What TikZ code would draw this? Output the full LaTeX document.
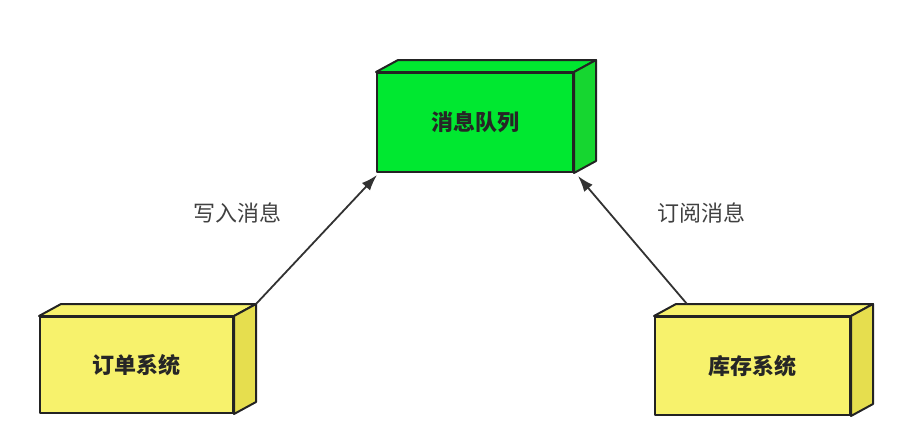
\documentclass[tikz,border=0pt]{standalone}
\usepackage{fontspec}
\newfontfamily\cjk{Noto Sans CJK SC}
\usetikzlibrary{positioning, arrows.meta}

\definecolor{queuefront}{RGB}{0,232,48}
\definecolor{queueside}{RGB}{22,214,48}
\definecolor{sysfront}{RGB}{247,242,108}
\definecolor{sysside}{RGB}{230,222,78}
\definecolor{edgegray}{RGB}{35,35,35}
\definecolor{arrowgray}{RGB}{50,50,50}

\begin{document}
\begin{tikzpicture}[
    x=1pt, y=-1pt,
    % Styles
    front/.style={draw=edgegray, line width=2pt, line join=round, minimum width=195pt, minimum height=98pt, inner sep=0pt, font=\cjk\bfseries\fontsize{22}{26}\selectfont, text=black!85},
    face/.style={draw=edgegray, line width=2pt, line join=round},
    flow/.style={-{Latex[length=16pt, width=11pt]}, line width=1.8pt, arrowgray},
    label/.style={font=\cjk\fontsize{22}{26}\selectfont, text=black!75},
]
\useasboundingbox (0,0) rectangle (904,424);

% Message queue (top)
\node[front, fill=queuefront, minimum width=196pt, minimum height=99pt] (queue) at (475,122.5) {消息队列};
\draw[face, fill=queuefront] (queue.north west) -- ([shift={(22,-12)}]queue.north west) -- ([shift={(22,-12)}]queue.north east) -- (queue.north east) -- cycle;
\draw[face, fill=queueside] (queue.north east) -- ([shift={(22,-12)}]queue.north east) -- ([shift={(22,-12)}]queue.south east) -- (queue.south east) -- cycle;

% Order system (left)
\node[front, fill=sysfront, minimum width=193pt, minimum height=96pt] (order) at (136.5,365) {订单系统};
\draw[face, fill=sysfront] (order.north west) -- ([shift={(22,-12)}]order.north west) -- ([shift={(22,-12)}]order.north east) -- (order.north east) -- cycle;
\draw[face, fill=sysside] (order.north east) -- ([shift={(22,-12)}]order.north east) -- ([shift={(22,-12)}]order.south east) -- (order.south east) -- cycle;

% Stock system (right)
\node[front, fill=sysfront] (stock) at (752.5,366) {库存系统};
\draw[face, fill=sysfront] (stock.north west) -- ([shift={(22,-12)}]stock.north west) -- ([shift={(22,-12)}]stock.north east) -- (stock.north east) -- cycle;
\draw[face, fill=sysside] (stock.north east) -- ([shift={(22,-12)}]stock.north east) -- ([shift={(22,-12)}]stock.south east) -- (stock.south east) -- cycle;

% Arrows
\coordinate (orderback) at ([shift={(22,-12)}]order.north east);
\coordinate (stockback) at ([shift={(33,-12)}]stock.north west);
\draw[flow] (orderback) -- ([shift={(1,2)}]queue.south west);
\draw[flow] (stockback) -- ([shift={(4,3)}]queue.south east);

% Labels
\node[label] (write) at (237,213) {写入消息};
\node[label] (subscribe) at (701,213) {订阅消息};

\end{tikzpicture}
\end{document}
